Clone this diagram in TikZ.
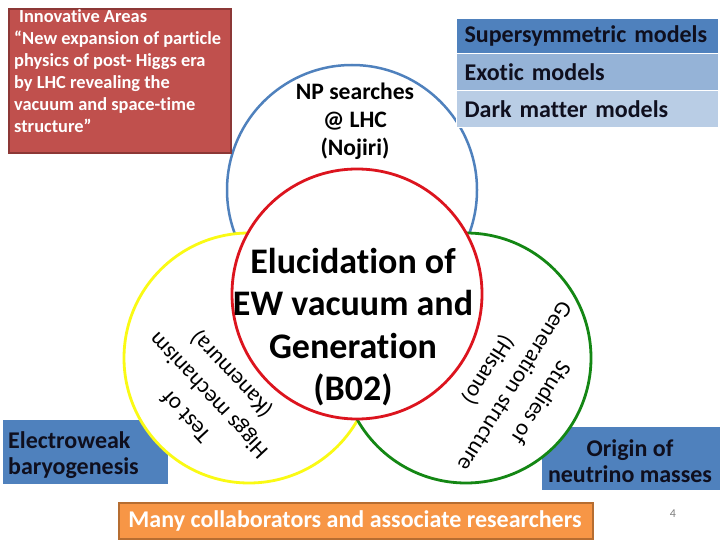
\documentclass[tikz,border=0pt]{standalone}
\usepackage{fontspec}
\setmainfont{Carlito}[Ligatures={NoCommon}]
\definecolor{cblue}{RGB}{79,129,189}
\definecolor{cred}{RGB}{220,20,30}
\definecolor{cyel}{RGB}{250,250,20}
\definecolor{cgreen}{RGB}{20,135,20}
\definecolor{iafill}{RGB}{192,80,77}
\definecolor{iadraw}{RGB}{140,56,54}
\definecolor{rowa}{RGB}{79,129,189}
\definecolor{rowb}{RGB}{149,179,215}
\definecolor{rowc}{RGB}{185,205,229}
\definecolor{ofill}{RGB}{247,150,70}
\definecolor{odraw}{RGB}{182,109,49}
\definecolor{txtd}{RGB}{15,15,30}
\begin{document}
\begin{tikzpicture}[x=1pt,y=-1pt,
  ring/.style={circle,minimum size=250pt,inner sep=0pt,outer sep=0pt,fill=white,line width=2.8pt},
  sidebox/.style={fill=cblue,inner sep=0pt,outer sep=0pt,anchor=north west},
  rowbox/.style={anchor=north west,minimum width=262pt,text width=246pt,inner xsep=8pt,inner ysep=0pt,draw=white,line width=1.2pt,font=\bfseries\fontsize{24}{28}\selectfont,align=left,text=txtd},
  sidetext/.style={font=\bfseries\fontsize{24}{26}\selectfont,text=txtd,inner sep=0pt},
  rottext/.style={align=center,font=\fontsize{23}{31}\selectfont,inner sep=0pt}]
\useasboundingbox (0,0) rectangle (720,540);
% side boxes (under circles)
\node[sidebox,minimum width=165pt,minimum height=64pt] (ewbox) at (3,420) {};
\node[sidebox,minimum width=178pt,minimum height=63pt] (nubox) at (542,427) {};
% circles
\node[ring,draw=cblue,line width=2.5pt] (blue) at (352,190) {};
\node[ring,draw=cyel] (yellow) at (249,358) {};
\node[ring,draw=cgreen] (green) at (466,358) {};
\node[ring,draw=cred] (red) at (357,294) {};
% side box texts
\node[sidetext,align=left,anchor=west] (ewtxt) at (8,455) {Electroweak\\baryogenesis};
\node[sidetext,align=center] (nutxt) at (630,461) {Origin of\\neutrino masses};
% innovative areas box
\node[anchor=north west,fill=iafill,draw=iadraw,line width=2pt,minimum width=222pt,minimum height=144pt,inner sep=0pt] (iabox) at (8,8) {};
\node[anchor=north west,inner sep=0pt,text=white,align=left,font=\bfseries\fontsize{18.4}{22}\selectfont] (iatxt) at (14,9)
 {\hspace{5pt}Innovative Areas\\“New expansion of particle\\physics of post- Higgs era\\by LHC revealing the\\vacuum and space-time\\structure”};
% model table
\node[rowbox,fill=rowa,minimum height=35pt] (susy) at (456,18) {Supersymmetric models};
\node[rowbox,fill=rowb,minimum height=37pt] (exotic) at (456,53) {Exotic models};
\node[rowbox,fill=rowc,minimum height=37pt] (dark) at (456,90) {Dark matter models};
% circle texts
\node[align=center,font=\bfseries\fontsize{23.6}{28}\selectfont,inner sep=0pt] (np) at (355,121) {NP searches\\@ LHC\\(Nojiri)};
\node[align=center,font=\bfseries\fontsize{36}{42.5}\selectfont,inner sep=0pt] (core) at (353,327) {Elucidation of\\EW vacuum and\\Generation\\(B02)};
\node[rottext,rotate=133] (higgs) at (209,395) {Test of\\Higgs mechanism\\(Kanemura)};
\node[rottext,rotate=238] (gen) at (514,386) {Studies of\\Generation structure\\(Hisano)};
% bottom box
\node[anchor=north west,fill=ofill,draw=odraw,line width=2pt,minimum width=474pt,minimum height=36pt,inner sep=0pt] (collab) at (118,502) {};
\node[text=white,font=\bfseries\fontsize{24}{26}\selectfont,inner sep=0pt] (collabtxt) at (355,521) {Many collaborators and associate researchers};
\node[text=gray,font=\fontsize{12}{14}\selectfont,inner sep=0pt] (pnum) at (673,514) {4};
\end{tikzpicture}
\end{document}
